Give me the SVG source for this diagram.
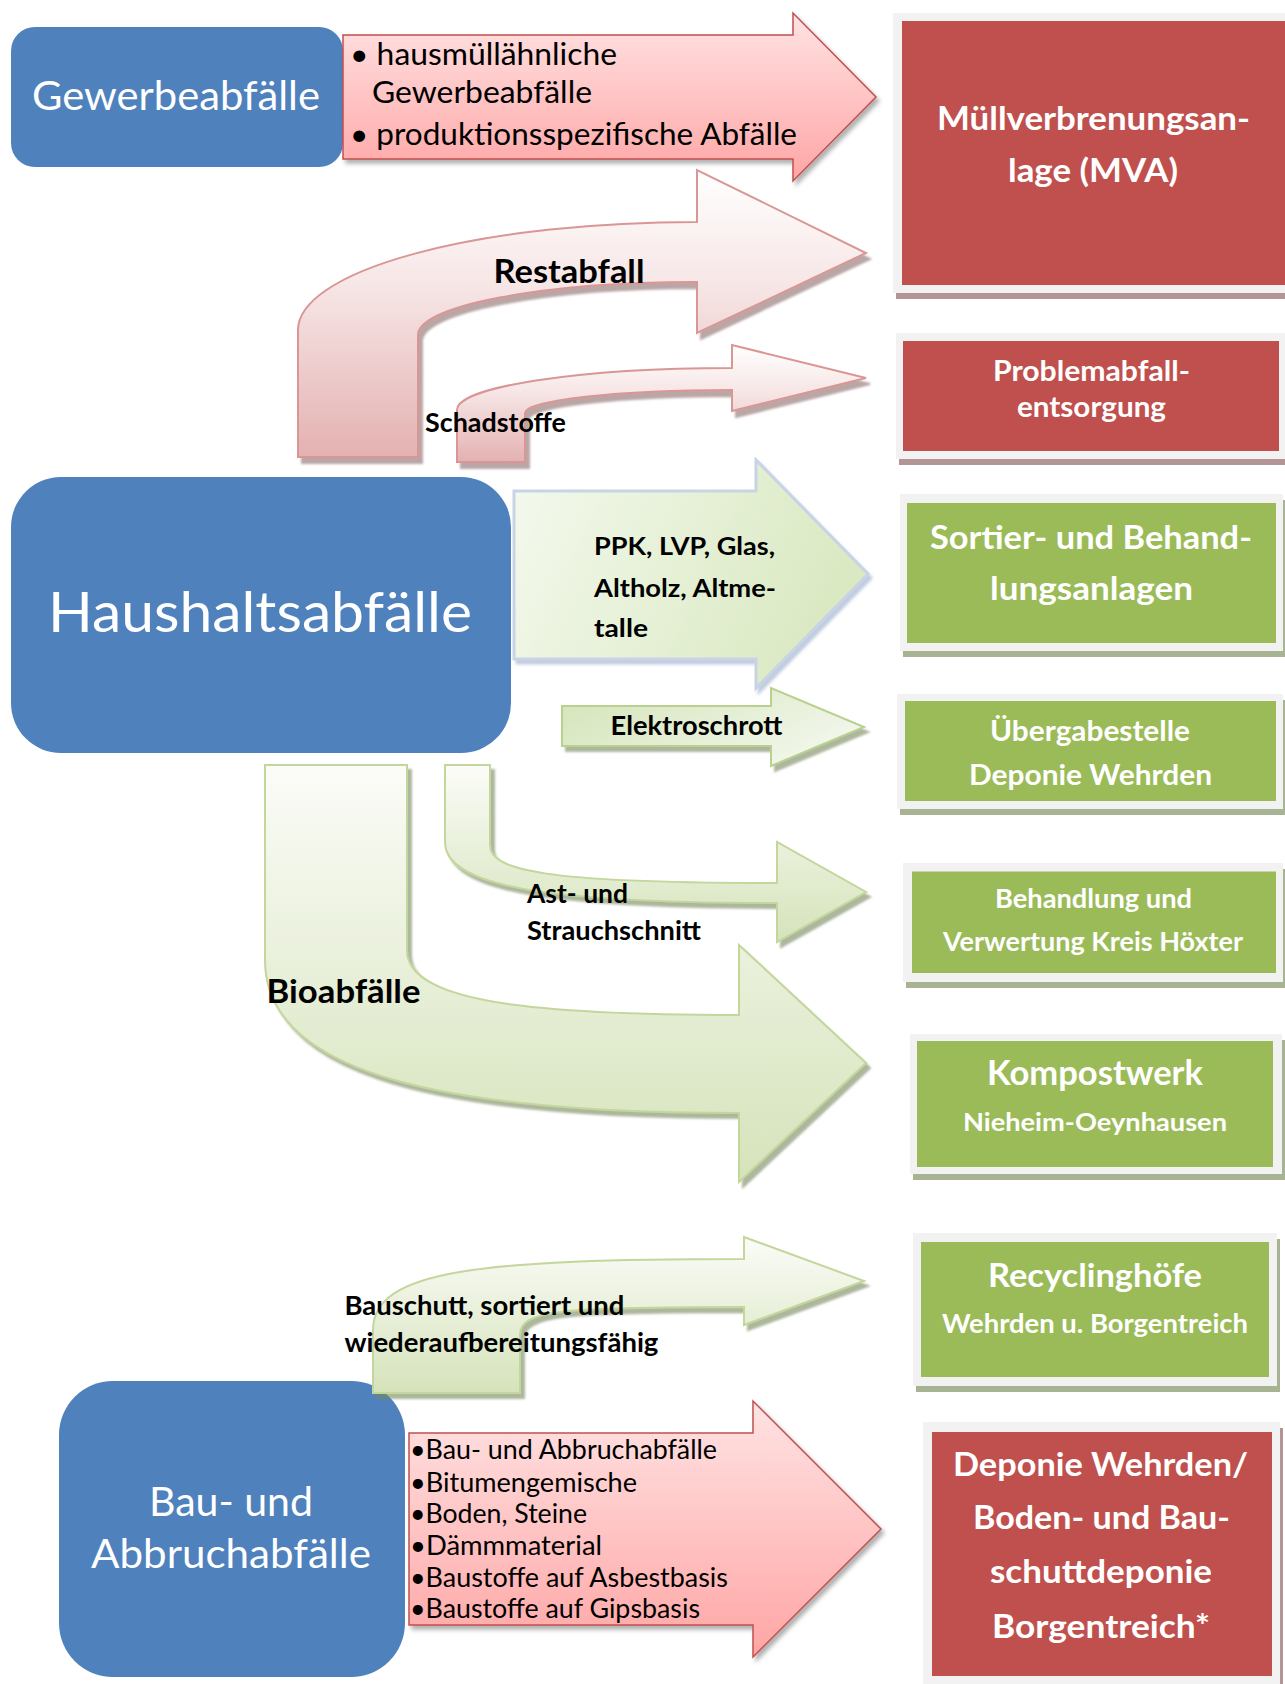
<svg xmlns="http://www.w3.org/2000/svg" width="1285" height="1684" viewBox="0 0 1285 1684">
<defs>
<style>
text{font-family:Lato,"Open Sans","Liberation Sans",sans-serif}
.b{font-weight:700;fill:#000}
.r{font-weight:400;fill:#000}
.wb{font-weight:700;fill:#fff}
.wr{font-weight:400;fill:#fff}
.blue{fill:#4F81BD}
.frame{fill:#F2F2F2}
.red{fill:#C0504D}
.grn{fill:#9BBB59}
.shr{fill:#B39595}
.shg{fill:#A8B394}
.arr-red{fill:url(#gRed);stroke:#C0504D;stroke-width:1.5;filter:url(#shSoft)}
.arr-rest{fill:url(#gRest);stroke:#D99694;stroke-width:2;filter:url(#shRed)}
.arr-grn{fill:url(#gBio);stroke:#C3D69B;stroke-width:2;filter:url(#shGrn)}
.arr-ppk{fill:url(#gPPK);stroke:#C9D3E6;stroke-width:3;filter:url(#shBlu)}
.arr-elek{fill:url(#gElek);stroke:#B9D08F;stroke-width:2;filter:url(#shGrn)}
</style>
<linearGradient id="gRed" x1="0" y1="0" x2="0" y2="1"><stop offset="0" stop-color="#FFE3E3"/><stop offset="1" stop-color="#FFA5A5"/></linearGradient>
<linearGradient id="gRest" x1="0" y1="0" x2="0" y2="1"><stop offset="0" stop-color="#FFFFFF"/><stop offset="0.4" stop-color="#F7E6E6"/><stop offset="1" stop-color="#E4B1B1"/></linearGradient>
<linearGradient id="gPPK" x1="0" y1="0" x2="1" y2="0.3"><stop offset="0" stop-color="#F4F9EE"/><stop offset="1" stop-color="#DAE9C2"/></linearGradient>
<linearGradient id="gElek" x1="0" y1="0" x2="1" y2="0.5"><stop offset="0" stop-color="#D3E4B7"/><stop offset="1" stop-color="#F1F6EA"/></linearGradient>
<linearGradient id="gBio" x1="0" y1="0" x2="0" y2="1"><stop offset="0" stop-color="#FBFCF8"/><stop offset="1" stop-color="#D5E3BA"/></linearGradient>
<filter id="shSoft" x="-10%" y="-10%" width="130%" height="140%"><feDropShadow dx="3" dy="4" stdDeviation="2" flood-color="#000" flood-opacity="0.3"/></filter>
<filter id="shRed" x="-10%" y="-10%" width="130%" height="140%"><feDropShadow dx="4" dy="6" stdDeviation="0.8" flood-color="#8E6A6A" flood-opacity="0.6"/></filter>
<filter id="shGrn" x="-10%" y="-10%" width="130%" height="140%"><feDropShadow dx="4" dy="5" stdDeviation="0.8" flood-color="#76865A" flood-opacity="0.6"/></filter>
<filter id="shBlu" x="-10%" y="-10%" width="130%" height="140%"><feDropShadow dx="3" dy="4" stdDeviation="1.5" flood-color="#8FA3C6" flood-opacity="0.55"/></filter>
</defs>
<rect width="1285" height="1684" fill="#fff"/>

<g id="nodes">
<g id="gewerbeabfaelle">
<rect class="blue" x="11" y="27" width="332" height="140" rx="24"/>
<text class="wr" x="32" y="110" font-size="40" textLength="288" lengthAdjust="spacingAndGlyphs">Gewerbeabfälle</text>
</g>
<g id="haushaltsabfaelle">
<rect class="blue" x="11" y="477" width="500" height="276" rx="50"/>
<text class="wr" x="48" y="632" font-size="56" textLength="424" lengthAdjust="spacingAndGlyphs">Haushaltsabfälle</text>
</g>
<g id="bauabfaelle">
<rect class="blue" x="59" y="1381" width="346" height="296" rx="54"/>
<text class="wr" x="149" y="1516" font-size="40.5" textLength="164" lengthAdjust="spacingAndGlyphs">Bau- und</text>
<text class="wr" x="91" y="1568" font-size="40.5" textLength="280" lengthAdjust="spacingAndGlyphs">Abbruchabfälle</text>
</g>
<g id="mva">
<rect class="shr" x="896" y="19" width="400" height="280"/>
<rect class="frame" x="893" y="13" width="400" height="280"/>
<rect class="red" x="902" y="21" width="390" height="264"/>
<text class="wb" x="937" y="130" font-size="33.3" textLength="313" lengthAdjust="spacingAndGlyphs">Müllverbrenungsan-</text>
<text class="wb" x="1008" y="182" font-size="33.3" textLength="170" lengthAdjust="spacingAndGlyphs">lage (MVA)</text>
</g>
<g id="problemabfall">
<rect class="shr" x="899" y="339" width="394" height="126"/>
<rect class="frame" x="896" y="333" width="394" height="126"/>
<rect class="red" x="903" y="341" width="376" height="110"/>
<text class="wb" x="993" y="381" font-size="28.7" textLength="197" lengthAdjust="spacingAndGlyphs">Problemabfall-</text>
<text class="wb" x="1017" y="417" font-size="28.7" textLength="149" lengthAdjust="spacingAndGlyphs">entsorgung</text>
</g>
<g id="sortier">
<rect class="shg" x="903" y="500" width="383" height="157"/>
<rect class="frame" x="900" y="494" width="383" height="157"/>
<rect class="grn" x="907" y="503" width="369" height="140"/>
<text class="wb" x="930" y="549" font-size="33.3" textLength="322" lengthAdjust="spacingAndGlyphs">Sortier- und Behand-</text>
<text class="wb" x="990" y="599.5" font-size="33.3" textLength="203" lengthAdjust="spacingAndGlyphs">lungsanlagen</text>
</g>
<g id="uebergabe">
<rect class="shg" x="900" y="700" width="386" height="115"/>
<rect class="frame" x="897" y="694" width="386" height="115"/>
<rect class="grn" x="905" y="701" width="371" height="100"/>
<text class="wb" x="990" y="741" font-size="28.6" textLength="200" lengthAdjust="spacingAndGlyphs">Übergabestelle</text>
<text class="wb" x="969" y="785" font-size="28.6" textLength="243" lengthAdjust="spacingAndGlyphs">Deponie Wehrden</text>
</g>
<g id="behandlung">
<rect class="shg" x="906" y="869" width="380" height="119"/>
<rect class="frame" x="903" y="863" width="380" height="119"/>
<rect class="grn" x="912" y="871.5" width="364" height="101.5"/>
<text class="wb" x="995" y="907.6" font-size="26" textLength="197" lengthAdjust="spacingAndGlyphs">Behandlung und</text>
<text class="wb" x="943" y="950.7" font-size="26" textLength="300" lengthAdjust="spacingAndGlyphs">Verwertung Kreis Höxter</text>
</g>
<g id="kompostwerk">
<rect class="shg" x="913" y="1040" width="372" height="140"/>
<rect class="frame" x="910" y="1034" width="372" height="140"/>
<rect class="grn" x="917" y="1041" width="356" height="126"/>
<text class="wb" x="987" y="1085" font-size="33.6" textLength="216" lengthAdjust="spacingAndGlyphs">Kompostwerk</text>
<text class="wb" x="963" y="1131" font-size="24.8" textLength="264" lengthAdjust="spacingAndGlyphs">Nieheim-Oeynhausen</text>
</g>
<g id="recyclinghoefe">
<rect class="shg" x="916" y="1239" width="364" height="153"/>
<rect class="frame" x="913" y="1233" width="364" height="153"/>
<rect class="grn" x="921" y="1242" width="348" height="135"/>
<text class="wb" x="988" y="1287" font-size="33.2" textLength="214" lengthAdjust="spacingAndGlyphs">Recyclinghöfe</text>
<text class="wb" x="942" y="1332.5" font-size="26.3" textLength="306" lengthAdjust="spacingAndGlyphs">Wehrden u. Borgentreich</text>
</g>
<g id="deponie">
<rect class="shr" x="926" y="1428" width="357" height="270"/>
<rect class="frame" x="923" y="1422" width="357" height="270"/>
<rect class="red" x="932" y="1432" width="340" height="244"/>
<text class="wb" x="953" y="1475.6" font-size="33.3" textLength="295" lengthAdjust="spacingAndGlyphs">Deponie Wehrden/</text>
<text class="wb" x="973" y="1529" font-size="33.3" textLength="257" lengthAdjust="spacingAndGlyphs">Boden- und Bau-</text>
<text class="wb" x="990" y="1582.5" font-size="33.3" textLength="222" lengthAdjust="spacingAndGlyphs">schuttdeponie</text>
<text class="wb" x="992" y="1638" font-size="33.3" textLength="218" lengthAdjust="spacingAndGlyphs">Borgentreich*</text>
</g>
</g>

<g id="connectors">
<g id="arrow-gewerbe">
<path class="arr-red" d="M343 35 L793 35 L793 13 L876 97 L793 181 L793 159 L343 159 Z"/>
<text class="r" x="350" y="65" font-size="30.6" textLength="267" lengthAdjust="spacingAndGlyphs">• hausmüllähnliche</text>
<text class="r" x="372" y="103" font-size="30.6" textLength="220" lengthAdjust="spacingAndGlyphs">Gewerbeabfälle</text>
<text class="r" x="350" y="145" font-size="30.6" textLength="447" lengthAdjust="spacingAndGlyphs">• produktionsspezifische Abfälle</text>
</g>
<g id="arrow-restabfall">
<path class="arr-rest" d="M298 457 L298 330 A399 108 0 0 1 697 222 L697 170 L866 253 L697 333 L697 282 A279 53 0 0 0 418 335 L418 457 Z"/>
<text class="b" x="493.5" y="283" font-size="32.8" textLength="151" lengthAdjust="spacingAndGlyphs">Restabfall</text>
</g>
<g id="arrow-schadstoffe">
<path class="arr-rest" d="M457 462 L457 410 A275 42 0 0 1 732 368 L732 345 L866 378 L732 411 L732 390 A207 23 0 0 0 525 413 L525 462 Z"/>
<text class="b" x="425" y="432" font-size="26" textLength="141" lengthAdjust="spacingAndGlyphs">Schadstoffe</text>
</g>
<g id="arrow-ppk">
<path class="arr-ppk" d="M514 491 L756 491 L756 460 L868 574 L756 688 L756 659 L514 659 Z"/>
<text class="b" x="594" y="555" font-size="25.6" textLength="181" lengthAdjust="spacingAndGlyphs">PPK, LVP, Glas,</text>
<text class="b" x="594" y="597" font-size="25.6" textLength="182" lengthAdjust="spacingAndGlyphs">Altholz, Altme-</text>
<text class="b" x="594" y="637" font-size="25.6" textLength="54" lengthAdjust="spacingAndGlyphs">talle</text>
</g>
<g id="arrow-elektro">
<path class="arr-elek" d="M562 706 L771 706 L771 688 L864 727 L771 766 L771 746 L562 746 Z"/>
<text class="b" x="610.5" y="735" font-size="26" textLength="172" lengthAdjust="spacingAndGlyphs">Elektroschrott</text>
</g>
<g id="arrow-bio">
<path class="arr-grn" d="M265 765 L265 960 C265 1060 400 1113 739 1113 L739 1182 L866 1063 L739 945 L739 1015 C520 1015 407 1000 407 950 L407 765 Z"/>
<text class="b" x="266.5" y="1003" font-size="33" textLength="154" lengthAdjust="spacingAndGlyphs">Bioabfälle</text>
</g>
<g id="arrow-ast">
<path class="arr-grn" d="M445 765 L445 842 C445 885 540 903 777 903 L777 942 L866 892 L777 842 L777 883 C540 883 490 870 490 845 L490 765 Z"/>
<text class="b" x="527" y="903" font-size="26" textLength="101" lengthAdjust="spacingAndGlyphs">Ast- und</text>
<text class="b" x="527" y="940" font-size="26" textLength="174" lengthAdjust="spacingAndGlyphs">Strauchschnitt</text>
</g>
<g id="arrow-bauschutt">
<path class="arr-grn" d="M373 1393 L373 1330 C373 1270 480 1259 744 1259 L744 1237 L864 1281 L744 1325 L744 1307 C560 1307 520 1310 520 1335 L520 1393 Z"/>
<text class="b" x="344.4" y="1315" font-size="26.4" textLength="280" lengthAdjust="spacingAndGlyphs">Bauschutt, sortiert und</text>
<text class="b" x="344.4" y="1352" font-size="26.4" textLength="314" lengthAdjust="spacingAndGlyphs">wiederaufbereitungsfähig</text>
</g>
<g id="arrow-bau">
<path class="arr-red" d="M409 1433 L753 1433 L753 1401 L881 1529 L753 1657 L753 1625 L409 1625 Z"/>
<text class="r" x="410" y="1459" font-size="26" textLength="307" lengthAdjust="spacingAndGlyphs">•Bau- und Abbruchabfälle</text>
<text class="r" x="410" y="1491.7" font-size="26" textLength="227" lengthAdjust="spacingAndGlyphs">•Bitumengemische</text>
<text class="r" x="410" y="1523" font-size="26" textLength="177" lengthAdjust="spacingAndGlyphs">•Boden, Steine</text>
<text class="r" x="410" y="1555" font-size="26" textLength="192" lengthAdjust="spacingAndGlyphs">•Dämmmaterial</text>
<text class="r" x="410" y="1587" font-size="26" textLength="318" lengthAdjust="spacingAndGlyphs">•Baustoffe auf Asbestbasis</text>
<text class="r" x="410" y="1618" font-size="26" textLength="290" lengthAdjust="spacingAndGlyphs">•Baustoffe auf Gipsbasis</text>
</g>
</g>
</svg>
